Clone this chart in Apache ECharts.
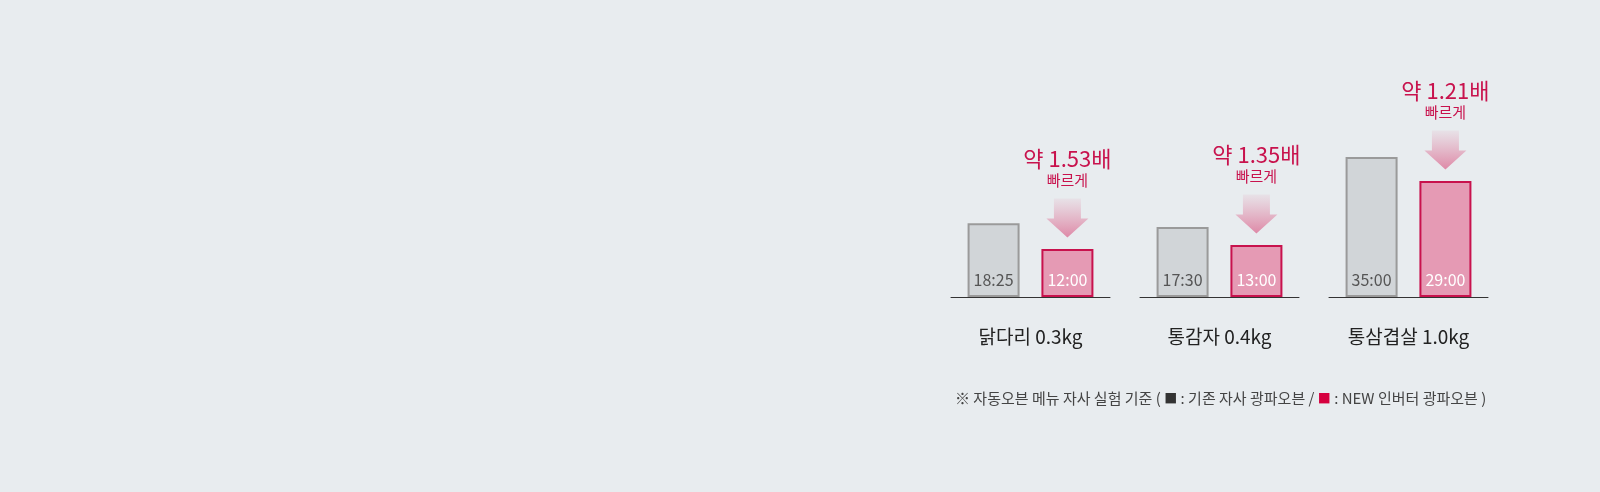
<!DOCTYPE html>
<html>
<head>
<meta charset="utf-8">
<script src="https://cdn.jsdelivr.net/npm/echarts@6/dist/echarts.min.js"></script>
<style>
  html, body { margin: 0; padding: 0; background: #e8ecef; }
  #chart { width: 1600px; height: 492px; }
</style>
</head>
<body>
<div id="chart"></div>
<script>
// 메뉴별 조리 시간 (분:초)
const categories = ['닭다리 0.3kg', '통감자 0.4kg', '통삼겹살 1.0kg']
const oldTimes = ['18:25', '17:30', '35:00']
const newTimes = ['12:00', '13:00', '29:00']
const ratios = ['약 1.53배', '약 1.35배', '약 1.21배']
const oldName = '기존 자사 광파오븐'
const newName = 'NEW 인버터 광파오븐'

const font = 'Noto Sans CJK KR'
const arrowPath = 'path://M7.5,0L34.5,0L34.5,20L42,20L21,39L0,20L7.5,20Z'

const toMin = (t) => {
    const [m, s] = t.split(':').map(Number)
    return m + s / 60
}

const myChart = echarts.init(document.getElementById('chart'))

const grid = categories.map((c, i) => ({
    left: 951 + i * 189,
    width: 159,
    top: 97,
    bottom: 195
}))

const xAxis = categories.map((c, i) => ({
    type: 'category',
    gridIndex: i,
    data: [c],
    axisTick: { show: false },
    axisLine: { lineStyle: { color: '#333', width: 1 } },
    axisLabel: { margin: 30, fontSize: 19, color: '#222', fontFamily: font }
}))

const yAxis = categories.map((c, i) => ({
    type: 'value',
    gridIndex: i,
    min: 0,
    max: 50,
    show: false
}))

const series = []
categories.forEach((c, i) => {
    series.push({
        type: 'bar',
        name: oldName,
        xAxisIndex: i,
        yAxisIndex: i,
        barWidth: 52,
        barGap: '42%',
        silent: true,
        data: [toMin(oldTimes[i])],
        itemStyle: { color: '#d1d5d8', borderColor: '#9a9a9a', borderWidth: 2 },
        label: {
            show: true,
            position: 'insideBottom',
            distance: 9,
            formatter: oldTimes[i],
            color: '#555',
            fontSize: 16,
            fontFamily: font
        }
    })
    series.push({
        type: 'bar',
        name: newName,
        xAxisIndex: i,
        yAxisIndex: i,
        barWidth: 52,
        barGap: '42%',
        silent: true,
        data: [toMin(newTimes[i])],
        itemStyle: { color: '#e59ab4', borderColor: '#c8124d', borderWidth: 2 },
        label: {
            show: true,
            position: 'insideBottom',
            distance: 9,
            formatter: newTimes[i],
            color: '#fff',
            fontSize: 16,
            fontFamily: font
        },
        markPoint: {
            silent: true,
            symbol: arrowPath,
            symbolSize: [42, 39],
            symbolOffset: [0, -31],
            itemStyle: {
                color: new echarts.graphic.LinearGradient(0, 0, 0, 1, [
                    { offset: 0, color: 'rgba(226,150,176,0.12)' },
                    { offset: 1, color: '#de89a7' }
                ])
            },
            label: {
                show: true,
                position: 'top',
                distance: 9,
                formatter: '{a|' + ratios[i] + '}\n{b|빠르게}',
                rich: {
                    a: { fontSize: 22, color: '#c8124d', fontFamily: font, lineHeight: 26 },
                    b: { fontSize: 15, color: '#c8124d', fontFamily: font, lineHeight: 18 }
                }
            },
            data: [{ coord: [c, toMin(newTimes[i])] }]
        }
    })
})

const option = {
    backgroundColor: '#e8ecef',
    animation: false,
    title: {
        left: 955,
        top: 391,
        padding: 0,
        text: '※ 자동오븐 메뉴 자사 실험 기준 ( {d|■} : ' + oldName + ' / {r|■} : ' + newName + ' )',
        textStyle: {
            fontSize: 15,
            fontWeight: 'normal',
            color: '#444',
            fontFamily: font,
            rich: {
                d: { fontSize: 13, color: '#333', fontFamily: font },
                r: { fontSize: 13, color: '#d6003f', fontFamily: font }
            }
        }
    },
    grid: grid,
    xAxis: xAxis,
    yAxis: yAxis,
    series: series
}

myChart.setOption(option)
</script>
</body>
</html>
